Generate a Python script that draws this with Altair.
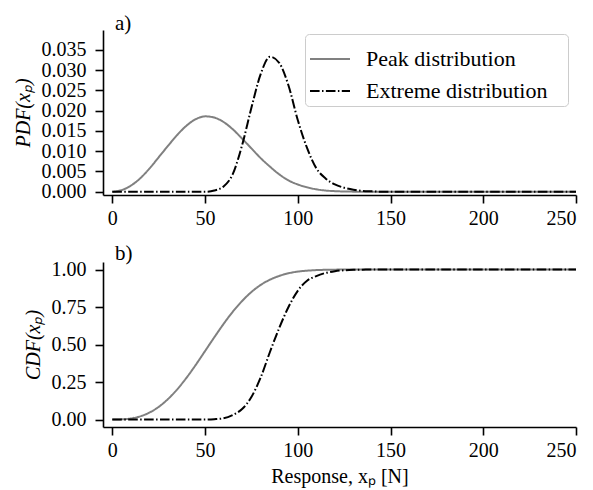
import altair as alt
import pandas as pd

# sampling grid of the response axis (N)
x_vals = [0, 5, 10, 15, 20, 25, 30, 35, 40, 45, 50, 55, 60, 65, 70, 75, 80, 85, 90,
          95, 100, 105, 110, 115, 120, 125, 130, 135, 140, 145, 150, 200, 250]

# values
peak_pdf = [0.0, 0.0004, 0.0015, 0.0033, 0.0057, 0.0085, 0.0113, 0.0140, 0.0163, 0.0179,
            0.0186, 0.0183, 0.0172, 0.0154, 0.0131, 0.0107, 0.0083, 0.0062, 0.0043,
            0.0028, 0.0018, 0.0011, 0.0006, 0.0003, 0.00015, 0.00007, 0.00003, 0.00001,
            0.0, 0.0, 0.0, 0.0, 0.0]
extreme_pdf = [0.0, 0.0, 0.0, 0.0, 0.0, 0.0, 0.0, 0.0, 0.0, 0.0,
               0.0, 0.0003, 0.0013, 0.0044, 0.0115, 0.0207, 0.0290, 0.0333, 0.0318,
               0.0262, 0.0177, 0.0108, 0.0058, 0.0033, 0.0018, 0.0010, 0.0005, 0.0002,
               0.0001, 0.0, 0.0, 0.0, 0.0]
peak_cdf = [0.0, 0.001, 0.007, 0.021, 0.046, 0.084, 0.136, 0.201, 0.278, 0.364,
            0.456, 0.548, 0.637, 0.719, 0.790, 0.850, 0.897, 0.932, 0.957,
            0.975, 0.986, 0.992, 0.996, 0.998, 0.999, 1.0, 1.0, 1.0,
            1.0, 1.0, 1.0, 1.0, 1.0]
extreme_cdf = [0.0, 0.0, 0.0, 0.0, 0.0, 0.0, 0.0, 0.0, 0.0, 0.0,
               0.0, 0.002, 0.008, 0.030, 0.070, 0.150, 0.280, 0.450, 0.610,
               0.750, 0.858, 0.925, 0.956, 0.977, 0.989, 0.995, 0.998, 0.999,
               1.0, 1.0, 1.0, 1.0, 1.0]

series_names = ["Peak distribution", "Extreme distribution"]
x_ticks = [0, 50, 100, 150, 200, 250]
pdf_ticks = [0.0, 0.005, 0.010, 0.015, 0.020, 0.025, 0.030, 0.035]
cdf_ticks = [0.0, 0.25, 0.50, 0.75, 1.00]


def to_long(peak, extreme):
    rows = []
    for xi, a, b in zip(x_vals, peak, extreme):
        rows.append({"x": xi, "y": a, "series": series_names[0]})
        rows.append({"x": xi, "y": b, "series": series_names[1]})
    return pd.DataFrame(rows)


pdf_df = to_long(peak_pdf, extreme_pdf)
cdf_df = to_long(peak_cdf, extreme_cdf)

FONT = "Liberation Serif"
color_scale = alt.Scale(domain=series_names, range=["#808080", "#000000"])
dash_scale = alt.Scale(domain=series_names, range=[[1, 0], [9.6, 2.4, 1.5, 2.4]])
x_scale = alt.Scale(domain=[-5, 250], nice=False, zero=False)

W, H = 473, 165


def panel(df, label, y_domain, y_ticks, y_fmt, y_title, x_title, show_legend):
    legend = None
    if show_legend:
        legend = alt.Legend(
            title=None, orient="none", legendX=202, legendY=4,
            symbolType="stroke", symbolSize=1600, symbolStrokeWidth=2,
            labelFont=FONT, labelFontSize=22, labelColor="black", labelLimit=0,
            labelExpr="datum.label + '\u2800'",
            labelOffset=15, rowPadding=0, padding=4,
            strokeColor="#cccccc", fillColor="white", cornerRadius=4,
        )
    x_axis = alt.Axis(values=x_ticks, format="d", title=x_title if x_title else None,
                      titleFontStyle="normal", titlePadding=6)
    return alt.Chart(df, title=alt.TitleParams(
        label, anchor="start", frame="group", dx=12, dy=4, font=FONT, fontSize=21,
        fontWeight="normal", color="black", offset=0,
    )).mark_line(strokeWidth=2, interpolate="monotone").encode(
        x=alt.X("x:Q", scale=x_scale, axis=x_axis),
        y=alt.Y("y:Q", scale=alt.Scale(domain=y_domain, nice=False, zero=False),
                axis=alt.Axis(values=y_ticks, format=y_fmt, title=y_title,
                              titleFontStyle="italic", titlePadding=8)),
        color=alt.Color("series:N", scale=color_scale, legend=legend, sort=series_names),
        strokeDash=alt.StrokeDash("series:N", scale=dash_scale, legend=legend, sort=series_names),
        order=alt.Order("series_order:Q"),
    ).transform_calculate(
        series_order="datum.series === 'Peak distribution' ? 0 : 1"
    ).properties(width=W, height=H)


top = panel(pdf_df, "a)", [-0.0008, 0.0399], pdf_ticks, ".3f", "PDF(xₚ)", None, True)
bottom = panel(cdf_df, "b)", [-0.05, 1.05], cdf_ticks, ".2f", "CDF(xₚ)",
               "Response, xₚ [N]", False)

chart = alt.vconcat(top, bottom, spacing=67, bounds="flush").resolve_scale(
    color="independent", strokeDash="independent"
).configure(
    padding={"left": 13, "top": 13, "right": 5, "bottom": 5},
    background="white",
).configure_view(stroke=None).configure_axis(
    grid=False, domainColor="black", domainWidth=1.6, tickColor="black",
    tickWidth=1.6, tickSize=8, labelFont=FONT, labelFontSize=20,
    labelColor="black", labelPadding=5, titleFont=FONT, titleFontSize=20,
    titleColor="black", titleFontWeight="normal",
).configure_axisY(labelPadding=9)

chart.save("out.html", embed_options={"renderer": "svg", "actions": False})
